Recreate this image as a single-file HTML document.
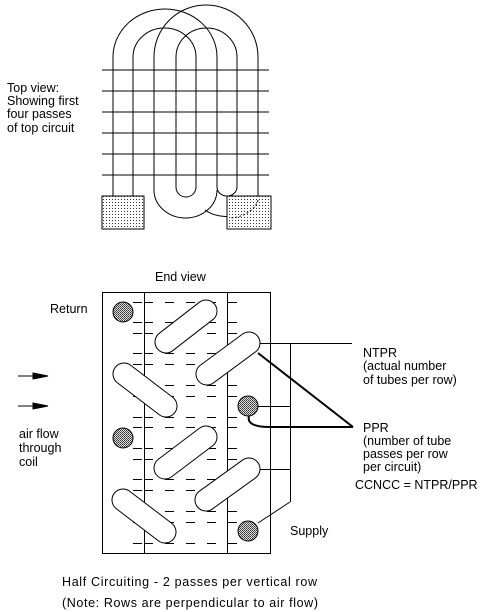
<!DOCTYPE html>
<html><head><meta charset="utf-8"><style>
html,body{margin:0;padding:0;background:#fff;}
svg{display:block;font-family:"Liberation Sans",Arial,sans-serif;font-size:12.5px;}
text{fill:#000;}
</style></head><body>
<svg width="499" height="612" viewBox="0 0 499 612">
<defs>
<pattern id="dots" width="3" height="3" patternUnits="userSpaceOnUse"><rect width="3" height="3" fill="#fff"/><rect x="1" y="1" width="1" height="1" fill="#333"/></pattern>
<pattern id="hatch" width="2" height="2" patternUnits="userSpaceOnUse"><rect width="2" height="2" fill="#ddd"/><rect width="1" height="1" fill="#333"/><rect x="1" y="1" width="1" height="1" fill="#555"/></pattern>
</defs>

<!-- TOP VIEW -->
<g fill="none" stroke="#000" stroke-width="1">
  <g>
    <line x1="102" y1="70" x2="269" y2="70"/><line x1="102" y1="91" x2="269" y2="91"/>
    <line x1="102" y1="112" x2="269" y2="112"/><line x1="102" y1="133" x2="269" y2="133"/>
    <line x1="102" y1="154" x2="269" y2="154"/><line x1="102" y1="175" x2="269" y2="175"/>
  </g>
  <g>
    <path d="M113,196 L113,57 A52,48 0 0 1 217,57 L217,187 A10,9 0 0 0 237,187 L237,57 A30.5,29 0 0 0 176,57 L176,187 A10,10 0 0 0 196,187 L196,57 A31.5,29 0 0 0 133,57 L133,196"/>
    <path d="M154,57 A52,52 0 0 1 258,57 L258,196"/>
    <path d="M154,57 L154,190 A31.5,28 0 0 0 217,190"/>
    <path d="M258,196 A31,22 0 0 1 205,210"/>
  </g>
  <rect x="102" y="196" width="42" height="33" fill="url(#dots)"/>
  <rect x="227" y="196" width="44" height="33" fill="url(#dots)"/>
  <path d="M258,200 A31,22 0 0 1 230,218" stroke-dasharray="2,2"/>
</g>
<text x="7" y="92">Top view:</text>
<text x="7" y="105">Showing first</text>
<text x="7" y="118">four passes</text>
<text x="7" y="132">of top circuit</text>

<!-- END VIEW -->
<text x="155" y="281">End view</text>
<text x="50" y="313">Return</text>
<g fill="none" stroke="#000" stroke-width="1">
  <rect x="102.5" y="292.5" width="168" height="261"/>
  <line x1="144.5" y1="292" x2="144.5" y2="554"/>
  <line x1="227.5" y1="292" x2="227.5" y2="554"/>
  <g id="dashes"></g>
</g>
<g id="tubes"></g>

<!-- annotation lines -->
<g fill="none" stroke="#000">
  <line x1="260" y1="343.5" x2="352" y2="343.5"/>
  <line x1="290.5" y1="343" x2="290.5" y2="502"/>
  <line x1="258" y1="406.5" x2="290" y2="406.5"/>
  <line x1="260" y1="469.5" x2="290" y2="469.5"/>
  <line x1="290" y1="502" x2="258" y2="523"/>
  <line x1="258" y1="353" x2="353" y2="427" stroke-width="2"/>
  <path d="M249,416 Q246,427 270,427 L353,427" stroke-width="2"/>
</g>

<g stroke="#000">
  <line x1="18" y1="376" x2="48" y2="376"/><polygon points="33,373 48,376 33,379" fill="#000"/>
  <line x1="18" y1="406" x2="48" y2="406"/><polygon points="33,403 48,406 33,409" fill="#000"/>
</g>
<text x="19" y="438">air flow</text>
<text x="19" y="452">through</text>
<text x="19" y="466">coil</text>

<text x="363" y="357">NTPR</text>
<text x="363" y="370">(actual number</text>
<text x="363" y="384">of tubes per row)</text>
<text x="363" y="432">PPR</text>
<text x="363" y="445">(number of tube</text>
<text x="363" y="458">passes per row</text>
<text x="363" y="471">per circuit)</text>
<text x="355" y="489">CCNCC = NTPR/PPR</text>
<text x="290" y="535">Supply</text>
<text x="62" y="586" textLength="255">Half Circuiting - 2 passes per vertical row</text>
<text x="62" y="607" textLength="256">(Note: Rows are perpendicular to air flow)</text>

<script>
var NS='http://www.w3.org/2000/svg';
var rows=[302,322,333,353,364,385,396,417,427,448,459,479,490,511,522,543];
var dashX=[133,144,165,186,207,228];
var dg=document.getElementById('dashes');
rows.forEach(function(y){dashX.forEach(function(x){
  var l=document.createElementNS(NS,'line');
  l.setAttribute('x1',x);l.setAttribute('x2',x+9);l.setAttribute('y1',y+0.5);l.setAttribute('y2',y+0.5);
  
  
  dg.appendChild(l);});});
var ovals=[[166,342,206,311],[207,374,249,343],[124,374,166,406],[165,468,206,437],[206,500,249,469],[123,500,165,532]];
var tg=document.getElementById('tubes');
ovals.forEach(function(o){
  var dx=o[2]-o[0],dy=o[3]-o[1],len=Math.sqrt(dx*dx+dy*dy),ang=Math.atan2(dy,dx)*180/Math.PI;
  var r=document.createElementNS(NS,'rect');
  r.setAttribute('x',-11);r.setAttribute('y',-11);r.setAttribute('width',len+22);r.setAttribute('height',22);
  r.setAttribute('rx',11);r.setAttribute('fill','#fff');r.setAttribute('stroke','#000');
  r.setAttribute('transform','translate('+o[0]+','+o[1]+') rotate('+ang+')');
  
  
  tg.appendChild(r);});
var circles=[[123,312],[123,438],[248,406],[248,531]];
circles.forEach(function(c){
  var e=document.createElementNS(NS,'circle');
  e.setAttribute('cx',c[0]);e.setAttribute('cy',c[1]);e.setAttribute('r',10);
  e.setAttribute('fill','url(#hatch)');e.setAttribute('stroke','#000');
  
  
  tg.appendChild(e);});
</script>
</svg>
</body></html>
